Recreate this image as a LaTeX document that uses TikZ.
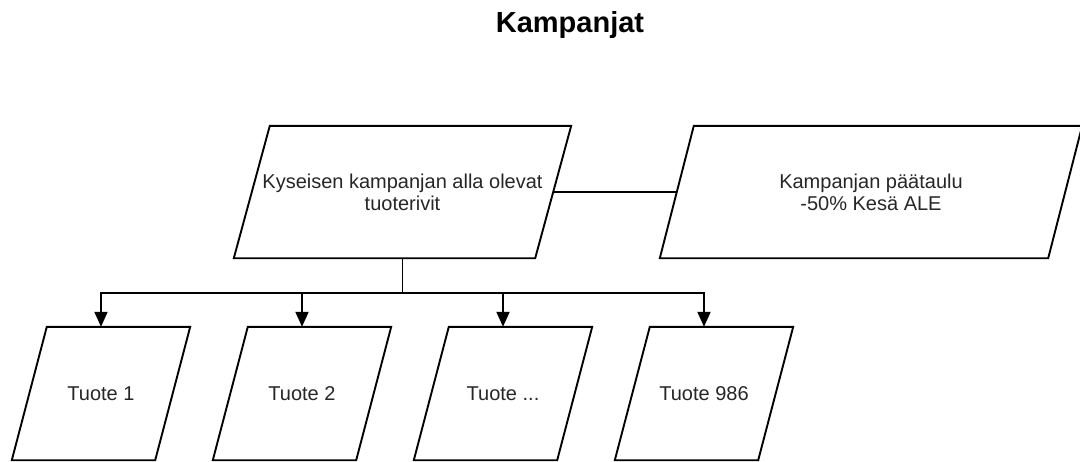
\documentclass[tikz,border=0pt]{standalone}
\usepackage{fontspec}
\setmainfont{Liberation Sans}
\usetikzlibrary{arrows.meta,calc}
\tikzset{
  box/.style={rectangle, draw=none, inner sep=0pt, align=center, text=black!85,
    font=\fontsize{20}{22}\selectfont, minimum height=133pt},
  shapeline/.style={draw=black, line width=1.9pt, line join=miter},
  conn/.style={draw=black, line width=1.9pt},
  arr/.style={conn, -{Triangle[length=15pt,width=13pt]}},
  titlestyle/.style={font=\fontsize{29}{32}\selectfont\bfseries, text=black, inner sep=0pt}
}
\newcommand\paral[2]{\draw[shapeline] ($(#1.north west)+(#2,0)$) -- ($(#1.north east)+(#2,0)$) -- ($(#1.south east)-(#2,0)$) -- ($(#1.south west)-(#2,0)$) -- cycle;}
\begin{document}
\begin{tikzpicture}[x=1pt,y=-1pt]
\useasboundingbox (0,0) rectangle (1080,461);
\node[titlestyle, anchor=base] (title) at (570,32) {Kampanjat};

\node[box, minimum width=301pt, minimum height=132pt] (main) at (402.5,192) {Kyseisen kampanjan alla olevat\\tuoterivit};
\paral{main}{18}
\node[box, minimum width=388pt, minimum height=132pt] (head) at (871,192) {Kampanjan päätaulu\\-50\% Kesä ALE};
\paral{head}{17}

\node[box, minimum width=143pt] (t1) at (101,393.5) {Tuote 1};
\node[box, minimum width=143pt] (t2) at (302,393.5) {Tuote 2};
\node[box, minimum width=143pt] (t3) at (503,393.5) {Tuote ...};
\node[box, minimum width=143pt] (t4) at (704,393.5) {Tuote 986};
\foreach \n in {t1,t2,t3,t4}{\paral{\n}{17.5}}

\draw[conn] (main.east) -- (head.west);
\coordinate (bus) at (402.5,293);
\draw[conn] (main.south) -- (bus);
\foreach \n in {t1,t2,t3,t4}{\draw[arr] (bus) -| (\n.north);}
\end{tikzpicture}
\end{document}
